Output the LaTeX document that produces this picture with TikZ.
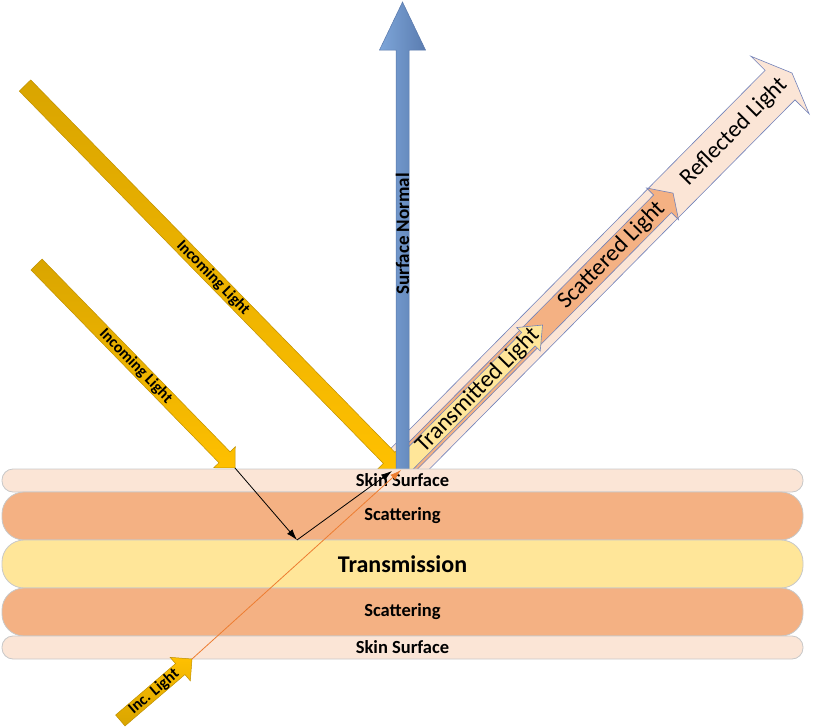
\documentclass[tikz,border=0pt]{standalone}
\usepackage{fontspec}
\setmainfont{Carlito}
\usetikzlibrary{calc,arrows.meta}
\definecolor{goldD}{HTML}{D9A500}
\definecolor{goldL}{HTML}{FFC000}
\definecolor{goldE}{HTML}{BF9000}
\definecolor{blueL}{HTML}{7EA6D9}
\definecolor{blueD}{HTML}{5A7CB0}
\definecolor{blueE}{HTML}{5877AA}
\definecolor{skin}{HTML}{FBE5D6}
\definecolor{scat}{HTML}{F4B183}
\definecolor{trans}{HTML}{FFE699}
\definecolor{layE}{HTML}{C8C8C8}
\definecolor{rayE}{HTML}{7282BA}
\definecolor{orng}{HTML}{ED7D31}
% #1 options, #2 tail, #3 tip, #4 shaft half width, #5 head half width, #6 head length, #7 name
\newcommand\blockarrow[7]{%
  \coordinate (#7h) at ($(#3)!#6pt!(#2)$);
  \path[#1] ($(#2)!#4pt!90:(#3)$) -- ($(#7h)!#4pt!-90:(#2)$) -- ($(#7h)!#5pt!-90:(#2)$)
    -- (#3) -- ($(#7h)!#5pt!90:(#2)$) -- ($(#7h)!#4pt!90:(#2)$) -- ($(#2)!#4pt!-90:(#3)$) -- cycle;
}
\begin{document}
\begin{tikzpicture}[x=1pt,y=-1pt,
  goldarrow/.style={draw=goldE, line width=0.5pt, top color=goldD, bottom color=goldL},
  incarrow/.style={draw=goldE, line width=0.5pt, top color=goldL, bottom color=goldD},
  rayarrow/.style={draw=rayE, line width=0.6pt, fill=#1},
  lbl/.style={font=\fontsize{16}{18}\selectfont\bfseries, inner sep=0pt},
  raylbl/.style={font=\fontsize{23.5}{26}\selectfont, inner sep=0pt, rotate=45.3},
  lay/.style={draw=layE, line width=0.8pt, minimum width=801pt, inner sep=0pt,
    font=\fontsize{18.5}{21}\selectfont\bfseries},
  laythin/.style={lay, minimum height=23pt, rounded corners=11pt, fill=skin},
  laythick/.style={lay, minimum height=48pt, rounded corners=22pt},
  blkline/.style={black, line width=0.8pt, -{Latex[length=11pt,width=7pt]}},
  orline/.style={orng, line width=0.8pt, -{Latex[length=11pt,width=7pt]}}
]
\useasboundingbox (0,0) rectangle (815,728);

% reflected / scattered / transmitted arrows
\coordinate (O) at (399,470);
\coordinate (ptip) at (792,73);
\coordinate (otip) at ($(O)!389.6pt!(ptip)$);
\coordinate (ytip) at ($(O)!204pt!(ptip)$);
\blockarrow{rayarrow=skin}{O}{ptip}{21}{41}{17}{pk}
\blockarrow{rayarrow=scat}{O}{otip}{12.5}{22.5}{15}{or}
\blockarrow{rayarrow=trans}{O}{ytip}{9.5}{16.6}{20}{ye}
\node[raylbl] (tl) at ($(O)!112pt!(ptip)$) {Transmitted Light};
\node[raylbl] (sl) at ($(O)!302pt!(ptip)$) {Scattered Light};
\node[raylbl] (rl) at ($(O)!476pt!(ptip)$) {Reflected Light};

% incoming light arrows
\coordinate (bt) at (25,85.5);
\coordinate (bh) at (401,470);
\blockarrow{goldarrow}{bt}{bh}{8}{17}{17}{big}
\node[lbl, rotate=-45.6] (il1) at ($(bt)!0.5!(bh)$) {Incoming Light};
\coordinate (st) at (36.5,264.5);
\coordinate (sh) at (235,468);
\blockarrow{goldarrow}{st}{sh}{7.8}{15}{15}{sm}
\node[lbl, rotate=-45.7] (il2) at ($(st)!0.5!(sh)$) {Incoming Light};

% surface normal
\coordinate (nb) at (402.5,472);
\coordinate (nt) at (402.5,2);
\blockarrow{draw=blueE, line width=0.5pt, left color=blueL, right color=blueD}{nb}{nt}{6.5}{23}{48}{nm}
\node[lbl, font=\fontsize{19}{21}\selectfont\bfseries, rotate=90] (sn) at (402.5,234) {Surface Normal};

% layers
\node[laythin] (s1) at (402.5,480.5) {Skin Surface};
\node[laythick, fill=scat] (c1) at (402.5,516) {Scattering};
\node[laythick, fill=trans, font=\fontsize{24}{27}\selectfont\bfseries] (tr) at (402.5,564) {Transmission};
\node[laythick, fill=scat] (c2) at (402.5,612) {Scattering};
\node[laythin] (s2) at (402.5,647.5) {Skin Surface};

% inc. light
\coordinate (it) at (120.3,720.5);
\coordinate (ih) at (192,659);
\blockarrow{incarrow}{it}{ih}{7.2}{15.5}{15.5}{inc}
\node[lbl, rotate=40.5] (il3) at ($(it)!0.47!(ih)$) {Inc. Light};

% thin rays
\coordinate (bounce) at (297,540);
\coordinate (exitb) at (392,471);
\coordinate (exito) at (401,470);
\draw[blkline] (sh) -- (bounce);
\draw[blkline] (bounce) -- (exitb);
\draw[orline] (ih) -- (exito);
\end{tikzpicture}
\end{document}
